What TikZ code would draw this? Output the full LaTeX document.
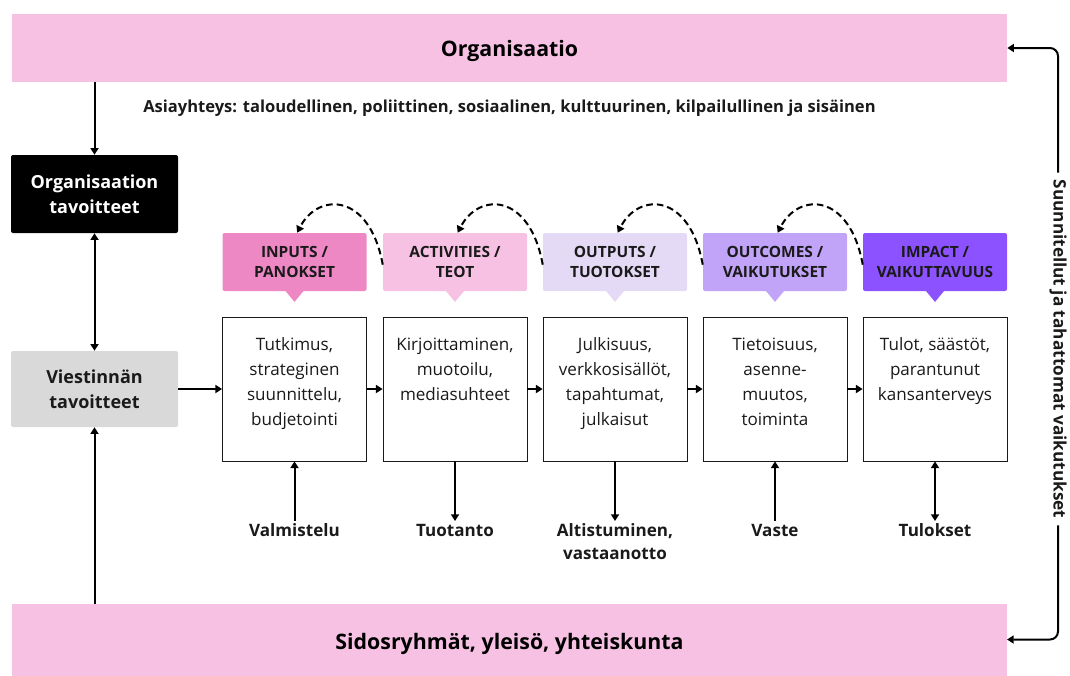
\documentclass[tikz,border=0pt]{standalone}
\usepackage{fontspec}
\setmainfont{Open Sans}
\usetikzlibrary{arrows.meta,calc}
\definecolor{barpink}{HTML}{F7C1E3}
\definecolor{inpink}{HTML}{EE88C5}
\definecolor{actpink}{HTML}{F7C1E3}
\definecolor{outlav}{HTML}{E4DAF5}
\definecolor{ocviolet}{HTML}{C1A3F8}
\definecolor{impviolet}{HTML}{8C52FF}
\definecolor{goalgray}{HTML}{D9D9D9}
\definecolor{ink}{HTML}{1A1A1A}
\begin{document}
\begin{tikzpicture}[x=0.75pt,y=-0.75pt,
  arr/.style={line width=1.5pt,-{Triangle[length=5pt,width=6pt]}},
  dblarr/.style={line width=1.5pt,{Triangle[length=5pt,width=6pt]}-{Triangle[length=5pt,width=6pt]}},
  dsh/.style={line width=1.5pt,dash pattern=on 5pt off 3pt,-{Triangle[length=5pt,width=6pt]}},
  bar/.style={fill=barpink,minimum width=746.25pt,inner sep=0pt,text depth=0pt,font=\bfseries\fontsize{16}{19}\selectfont,text=black},
  goal/.style={rounded corners=1.5pt,minimum width=125.25pt,align=center,font=\bfseries\fontsize{13.5}{18.75}\selectfont},
  head/.style={rounded corners=1.5pt,minimum width=108pt,minimum height=43.5pt,inner sep=0pt,align=center,text=ink,font=\bfseries\fontsize{11.6}{15}\selectfont},
  stage/.style={draw=ink,line width=0.6pt,fill=white,minimum width=108pt,minimum height=108pt},
  body/.style={anchor=north,align=center,inner sep=0pt,text=ink,font=\fontsize{12.8}{18.75}\selectfont},
  lbl/.style={anchor=north,align=center,inner sep=2pt,text=ink,font=\bfseries\fontsize{12.8}{17.25}\selectfont},
]
\useasboundingbox (0,0) rectangle (1070,675);

% frame bars (the lower one runs off the page edge)
\node[bar,minimum height=51pt] (org) at (509.5,48) {Organisaatio};
\node[bar,minimum height=55.5pt] (sid) at (509.5,641) {Sidosryhmät, yleisö, yhteiskunta};
\node[anchor=west,inner sep=0pt,text=ink,font=\bfseries\fontsize{12.4}{14}\selectfont] (ctx) at (143,108)
  {Asiayhteys: taloudellinen, poliittinen, sosiaalinen, kulttuurinen, kilpailullinen ja sisäinen};

% goals
\node[goal,fill=black,text=white,minimum height=58.5pt] (go) at (94.5,194) {Organisaation\\tavoitteet};
\node[goal,fill=goalgray,text=ink,minimum height=57pt] (gc) at (94.5,389) {Viestinnän\\tavoitteet};

\draw[arr] (org.south -| go.north) -- (go.north);
\draw[dblarr] (go.south) -- (gc.north);
\draw[arr] (sid.north -| gc.south) -- (gc.south);

% stage headers
\node[head,fill=inpink] (h1) at (294.5,262) {INPUTS /\\PANOKSET};
\node[head,fill=actpink] (h2) at (455,262) {ACTIVITIES /\\TEOT};
\node[head,fill=outlav] (h3) at (615,262) {OUTPUTS /\\TUOTOKSET};
\node[head,fill=ocviolet] (h4) at (775,262) {OUTCOMES /\\VAIKUTUKSET};
\node[head,fill=impviolet] (h5) at (935,262) {IMPACT /\\VAIKUTTAVUUS};
\foreach \h/\c in {h1/inpink,h2/actpink,h3/outlav,h4/ocviolet,h5/impviolet}{
  \fill[\c] ([xshift=-7pt,yshift=0.5pt]\h.south) -- ([xshift=7pt,yshift=0.5pt]\h.south) -- ([yshift=-8pt]\h.south) -- cycle;
}

% feedback loops
\foreach \a/\b in {h2/h1,h3/h2,h4/h3,h5/h4}{
  \draw[dsh] ([yshift=-2pt]\a.west) .. controls +(-13,-72) and +(21,-41) .. ([xshift=2pt]\b.north);
}

% stage boxes
\node[stage] (b1) at (294.5,389) {};
\node[stage] (b2) at (455,389) {};
\node[stage] (b3) at (615,389) {};
\node[stage] (b4) at (775,389) {};
\node[stage] (b5) at (935,389) {};
\node[body] (t1) at ([yshift=-15.5pt]b1.north) {Tutkimus,\\strateginen\\suunnittelu,\\budjetointi};
\node[body] (t2) at ([yshift=-15.5pt]b2.north) {Kirjoittaminen,\\muotoilu,\\mediasuhteet};
\node[body] (t3) at ([yshift=-15.5pt]b3.north) {Julkisuus,\\verkkosisällöt,\\tapahtumat,\\julkaisut};
\node[body] (t4) at ([yshift=-15.5pt]b4.north) {Tietoisuus,\\asenne-\\muutos,\\toiminta};
\node[body] (t5) at ([yshift=-15.5pt]b5.north) {Tulot, säästöt,\\parantunut\\kansanterveys};

\draw[arr] (gc.east) -- (b1.west);
\draw[arr] (b1.east) -- (b2.west);
\draw[arr] (b2.east) -- (b3.west);
\draw[arr] (b3.east) -- (b4.west);
\draw[arr] (b4.east) -- (b5.west);

% phase labels
\node[lbl] (l1) at (294.5,521) {Valmistelu};
\node[lbl] (l2) at (455,521) {Tuotanto};
\node[lbl] (l3) at (615,521) {Altistuminen,\\vastaanotto};
\node[lbl] (l4) at (775,521) {Vaste};
\node[lbl] (l5) at (935,521) {Tulokset};
\draw[arr] (l1.north) -- (b1.south);
\draw[arr] (b2.south) -- (l2.north);
\draw[arr] (b3.south) -- (l3.north);
\draw[arr] (l4.north) -- (b4.south);
\draw[dblarr] (b5.south) -- (l5.north);

% planned and unintended effects
\node[rotate=-90,inner sep=5pt,text=ink,font=\bfseries\fontsize{12.9}{14}\selectfont] (vt) at (1058,349)
  {Suunnitellut ja tahattomat vaikutukset};
\draw[arr,rounded corners=6pt] (vt.west) |- (org.east);
\draw[arr,rounded corners=6pt] (vt.east) |- (1007,639.5);
\end{tikzpicture}
\end{document}
